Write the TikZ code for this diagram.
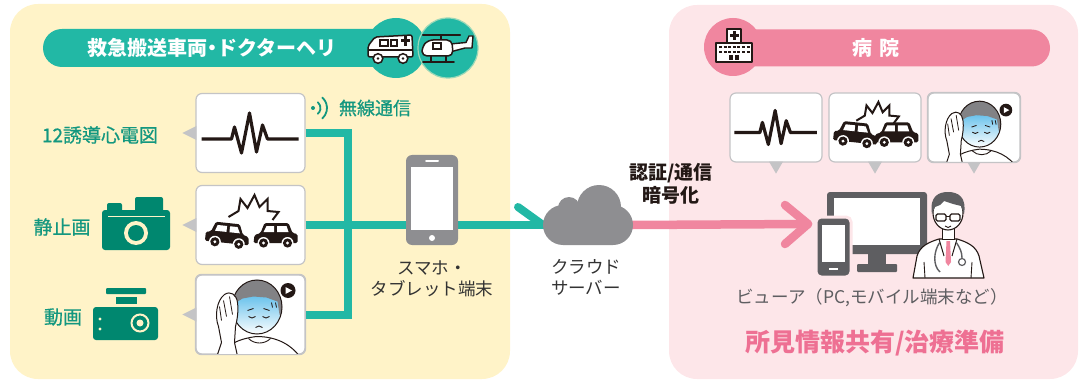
\documentclass[tikz,border=0pt]{standalone}
\usepackage{fontspec}
\setmainfont{Noto Sans CJK JP}
\newfontfamily\jpmed{Noto Sans CJK JP}[RawFeature={embolden=0.6}]
\usetikzlibrary{calc}

\definecolor{panelY}{HTML}{FFF3C8}
\definecolor{panelP}{HTML}{FDE6E9}
\definecolor{tealM}{HTML}{22B8A5}
\definecolor{tealD}{HTML}{00876F}
\definecolor{tealT}{HTML}{13977F}
\definecolor{pinkM}{HTML}{F0869F}
\definecolor{pinkT}{HTML}{EE7093}
\definecolor{grayM}{HTML}{8E8E91}
\definecolor{grayD}{HTML}{5E5E61}
\definecolor{boxline}{HTML}{C4C4C6}
\definecolor{ink}{HTML}{231815}
\definecolor{txt}{HTML}{333333}
\definecolor{faceblue}{HTML}{6CC3EC}
\definecolor{hairgray}{HTML}{828285}

\tikzset{
  card/.style={draw=boxline, line width=1.2pt, fill=white, rounded corners=6pt,
    inner sep=0pt, minimum width=109pt, minimum height=79pt},
  rcard/.style={card, minimum width=92pt, minimum height=69pt},
  cardedge/.style={draw=boxline, line width=1.2pt, rounded corners=6pt},
  pointer/.style={fill=boxline},
  tealwire/.style={draw=tealM, line width=8pt},
  pinkwire/.style={draw=pinkM, line width=8.5pt, line cap=round, line join=round},
  lbl/.style={text=tealT, font=\jpmed\fontsize{19}{21}\selectfont, inner sep=0pt},
  headtxt/.style={text=white, font=\bfseries\fontsize{20}{22}\selectfont, inner sep=0pt},
  darktxt/.style={text=txt, font=\fontsize{17.5}{21}\selectfont, align=center, inner sep=0pt},
  boldtxt/.style={text=ink, font=\bfseries\fontsize{19}{23}\selectfont, align=center, inner sep=0pt},
  icon/.style={draw=ink, line width=1.5pt, fill=white, line join=round},
  % ECG trace
  ecgline/.pic={
    \draw[ink, line width=3.2pt, line join=round]
      (-49,6) -- (-19,6) -- (-16,-6) -- (-9,20) -- (-1,-20) -- (6,19) -- (12,-8) -- (17,6) -- (48,6);
  },
  % a small SUV facing right, origin at the bottom centre
  suv/.pic={
    \fill[ink, rounded corners=1.5pt] (-22,-3) -- (-22,-12) -- (-17,-13) -- (-13,-23) -- (11,-23)
      -- (15,-13) -- (21,-11) -- (22,-3) -- cycle;
    \fill[white] (-11,-20) -- (-1.5,-20) -- (-1.5,-14) -- (-13,-14) -- cycle;
    \fill[white] (1.5,-20) -- (9,-20) -- (12,-14) -- (1.5,-14) -- cycle;
    \foreach \wx in {-12,12}{
      \fill[white] (\wx,-3) circle[radius=6];
      \fill[ink] (\wx,-3) circle[radius=4.6];
      \fill[white] (\wx,-3) circle[radius=1.6];
    }
  },
  % collision scene
  crash/.pic={
    \draw[ink, line width=2pt, line join=miter]
      (-22,-8) -- (-12,-14) -- (-10,-26) -- (-3,-17) -- (4,-30) -- (9,-18) -- (17,-26)
      -- (17,-14) -- (28,-13) -- (22,-5);
    \pic[rotate=-6] at (-24,21) {suv};
    \pic[xscale=-1] at (25,21) {suv};
  },
  % patient holding the head, with a play badge
  sickkid/.pic={
    \draw[ink, line width=1pt, fill=white]
      (-30,46) .. controls (-28,30) and (-10,24) .. (6,22) .. controls (26,22) and (42,30) .. (52,46) -- cycle;
    \draw[ink, line width=0.9pt] (-2,24) .. controls (4,30) and (14,30) .. (20,24);
    \begin{scope}
      \clip (6.5,-7.5) ellipse [x radius=25, y radius=27];
      \shade[top color=faceblue, bottom color=white] (-20,-18) rectangle (35,20);
      \fill[hairgray] (-20,-40) -- (35,-40) -- (35,4) -- (29,0) -- (27,-13) -- (16,-17) -- (3,-18)
        -- (-8,-16) -- (-16,-11) -- (-20,-4) -- cycle;
    \end{scope}
    \draw[ink, line width=1pt] (6.5,-7.5) ellipse [x radius=25, y radius=27];
    \draw[ink, line width=0.9pt] (-2,2) .. controls (0,4) and (3,4) .. (5,2);
    \draw[ink, line width=0.9pt] (12,2) .. controls (14,4) and (17,4) .. (19,2);
    \draw[ink, line width=0.8pt] (-3,-4) -- (3,-6) (13,-6) -- (19,-4);
    \draw[ink, line width=0.9pt] (5,13) .. controls (7,11) and (10,11) .. (12,13);
    \draw[ink, line width=0.8pt] (21,-12) -- (22,-7) (25,-12) -- (26,-7);
    \draw[ink, line width=1pt, fill=white, line join=round]
      (-35,46) -- (-29,28) -- (-32,12) .. controls (-36,2) and (-34,-14) .. (-26,-20)
      .. controls (-20,-24) and (-14,-20) .. (-13,-12) .. controls (-12,-4) and (-13,4) .. (-15,12)
      -- (-16,28) -- (-12,46) -- cycle;
    \draw[ink, line width=0.8pt] (-27,-14) -- (-24,2) (-21,-18) -- (-18,0) (-31,-8) -- (-29,6);
    \fill[ink] (37.5,-24) circle[radius=7.5];
    \fill[white] (35,-27.5) -- (41.5,-24) -- (35,-20.5) -- cycle;
  },
}

\begin{document}
\begin{tikzpicture}[x=1pt,y=-1pt]
\useasboundingbox (0,0) rectangle (1083,382);

% background panels
\fill[panelY, rounded corners=28pt] (10,4) rectangle (510,379);
\fill[panelP, rounded corners=28pt] (669,5) rectangle (1078,379);

% ---------- ambulance / helicopter header ----------
\fill[tealM, rounded corners=19pt] (43,29) rectangle (400,67);
\node[headtxt] (hdrA) at (212,48) {救急搬送車両\kern-5pt・\kern-5pt ドクターヘリ};
\fill[tealM] (396,48) circle[radius=30];
\fill[tealM, draw=panelY!55!tealM, line width=1.2pt] (448,48) circle[radius=30];

% ambulance
\draw[icon, rounded corners=2pt] (368,57) -- (368,46) -- (375,37) -- (412,35) -- (413,57) -- cycle;
\draw[ink, line width=1.2pt] (368,50) -- (413,50);
\draw[ink, line width=1.2pt] (380,40) rectangle (388,46);
\draw[ink, line width=1.2pt] (391,40) rectangle (397,46);
\fill[ink] (401,39.5) rectangle (410,42.5);
\fill[ink] (404,36) rectangle (407,46);
\foreach \wx in {378,403}{
  \draw[ink, line width=1.5pt, fill=white] (\wx,58.5) circle[radius=4.8];
  \fill[ink] (\wx,58.5) circle[radius=1.4];
}

% helicopter
\draw[ink, line width=2.2pt, line cap=round] (423,35) -- (460,35);
\draw[ink, line width=1.6pt] (441,35) -- (441,40);
\draw[icon, line width=1.4pt] (450,44) -- (466,42.5) -- (469,36) -- (473,36) -- (472,48) -- (465,48) -- (450,52) -- cycle;
\draw[icon, rounded corners=5pt] (422,56) -- (422,47) -- (428,40) -- (452,40) -- (453,56) -- cycle;
\draw[ink, line width=1.2pt] (433,43) rectangle (441,49);
\draw[ink, line width=1.6pt, line cap=round] (431,56) -- (431,61) (446,56) -- (446,61) (423,62) -- (454,62);

% ---------- hospital header ----------
\fill[pinkM, rounded corners=18.5pt] (733,29.5) rectangle (1050,66.5);
\node[headtxt] (hdrB) at (876,48) {病\hspace{7pt}院};
\fill[pinkM] (733,47) circle[radius=29];
\draw[icon] (716,43) rectangle (752,62);
\draw[icon] (727,29) rectangle (741,43);
\fill[ink] (732.5,31) rectangle (735.5,40);
\fill[ink] (729.5,34) rectangle (738.5,37);
\draw[ink, line width=2pt, dash pattern=on 3pt off 1.6pt] (719,47.5) -- (750,47.5) (719,52.5) -- (750,52.5);
\fill[ink] (729,55.5) rectangle (733,60);
\fill[ink] (735,55.5) rectangle (739,60);

% ---------- source cards ----------
\node[card] (box1) at (250.5,133) {};
\node[card] (box2) at (250.5,225) {};
\node[card] (box3) at (250.5,314.5) {};
\foreach \b in {box1,box2,box3}{
  \fill[pointer] ($(\b.west)+(1,-7)$) -- ($(\b.west)+(-13,0)$) -- ($(\b.west)+(1,7)$) -- cycle;
}
\pic at (box1) {ecgline};
\begin{scope}
  \clip[rounded corners=6pt] (box2.south west) rectangle (box2.north east);
  \pic at (box2) {crash};
\end{scope}
\begin{scope}
  \clip[rounded corners=6pt] (box3.south west) rectangle (box3.north east);
  \pic at (box3) {sickkid};
\end{scope}
\draw[cardedge] (box3.south west) rectangle (box3.north east);

% labels and device icons
\node[lbl] (lecg) at (100,135) {12誘導心電図};
\node[lbl] (lstill) at (62,227) {静止画};
\node[lbl] (lmovie) at (63,317) {動画};

% camera
\fill[tealD, rounded corners=2pt] (107,203) rectangle (122,212);
\fill[tealD, rounded corners=2pt] (135,197) rectangle (163,212);
\fill[tealD, rounded corners=3pt] (102,210) rectangle (170,250);
\draw[panelY, line width=1.8pt] (108,216.5) -- (165,216.5);
\fill[panelY] (136,233) circle[radius=12];
\fill[tealD] (136,233) circle[radius=8];

% dash camera
\fill[tealD, rounded corners=1pt] (106,288) rectangle (146,294);
\fill[tealD] (116,296.5) rectangle (137,304);
\fill[tealD, rounded corners=3pt] (93,307) rectangle (158,340);
\fill[panelY] (100,319) circle[radius=1.6];
\fill[panelY] (100,329) circle[radius=1.6];
\draw[panelY, line width=2pt] (140,323) circle[radius=8.5];
\fill[panelY] (140,323) circle[radius=3.5];

% wireless mark
\fill[tealT] (313,108) circle[radius=2];
\draw[tealT, line width=1.8pt, line cap=round] (313,108) ++(-50:7.5) arc[start angle=-50, end angle=50, radius=7.5];
\draw[tealT, line width=1.8pt, line cap=round] (313,108) ++(-48:14) arc[start angle=-48, end angle=48, radius=14];
\node[lbl, font=\jpmed\fontsize{18}{20}\selectfont] (lwire) at (375,108) {無線通信};

% ---------- connections ----------
\coordinate (bus) at (348,225);
\coordinate (cloudin) at (543,225);
\coordinate (cloudout) at (633,225);
\coordinate (viewtip) at (808,224);
\draw[tealwire] (box1.east) -| (bus) |- (box3.east);
\draw[tealwire] (box2.east) -- (cloudin);
\draw[tealwire, line cap=round] (cloudin) -- ($(cloudin)+(-25,-18)$);
\draw[pinkwire] (cloudout) -- (viewtip);
\draw[pinkwire] ($(viewtip)+(-23,-19)$) -- (viewtip) -- ($(viewtip)+(-23,20)$);

% smartphone
\node[fill=grayM, rounded corners=6pt, minimum width=52pt, minimum height=90pt, inner sep=0pt] (phone) at (432,200) {};
\fill[white] (411,167) rectangle (453,230);
\draw[white, line width=2pt, line cap=round] (426,161) -- (438,161);
\fill[white] (432,238) circle[radius=3];
\node[darktxt] (lphone) at (432,279) {スマホ・\\タブレット端末};

% cloud server
\node[minimum width=90pt, minimum height=60pt, inner sep=0pt] (cloud) at (588,215) {};
\fill[grayM, rounded corners=20pt] (543,205) rectangle (633,245);
\fill[grayM] (599,207) circle[radius=22];
\fill[grayM] (569,208) circle[radius=11];
\node[darktxt] (lcloud) at (586,277) {クラウド\\サーバー};

\node[boldtxt] (lsec) at (671,184) {認証/通信\\暗号化};

% ---------- hospital cards ----------
\node[rcard] (rbox1) at (776,127.5) {};
\node[rcard] (rbox2) at (875,127.5) {};
\node[rcard] (rbox3) at (974,127.5) {};
\foreach \b in {rbox1,rbox2,rbox3}{
  \fill[pointer] ($(\b.south)+(-7,-1)$) -- ($(\b.south)+(0,11)$) -- ($(\b.south)+(7,-1)$) -- cycle;
}
\pic[scale=0.85] at (rbox1) {ecgline};
\begin{scope}
  \clip[rounded corners=6pt] (rbox2.south west) rectangle (rbox2.north east);
  \pic[scale=0.85] at (rbox2) {crash};
\end{scope}
\begin{scope}
  \clip[rounded corners=6pt] (rbox3.south west) rectangle (rbox3.north east);
  \pic[scale=0.85] at ($(rbox3)+(0,3)$) {sickkid};
\end{scope}
\draw[cardedge] (rbox3.south west) rectangle (rbox3.north east);

% viewer: monitor, phone and doctor
\node[fill=grayD, rounded corners=3pt, minimum width=100pt, minimum height=62pt, inner sep=0pt] (monitor) at (877,223) {};
\fill[white] (834,198) rectangle (920,245);
\fill[grayD] (868,253) rectangle (886,265);
\fill[grayD, rounded corners=1pt] (857,264) rectangle (897,272);
\node[fill=grayD, draw=panelP, line width=3pt, rounded corners=5pt, minimum width=35pt, minimum height=60pt, inner sep=0pt] (hphone) at (833.5,247) {};
\fill[white] (822,225) rectangle (845,262);
\draw[white, line width=2pt] (829,269) -- (838,269);

% doctor
\draw[ink, line width=1.1pt, fill=white, line join=round] (913,278) -- (917,256)
  .. controls (920,246) and (929,242) .. (939,239) -- (957,239)
  .. controls (967,242) and (976,246) .. (979,256) -- (984,278) -- cycle;
\fill[pinkM] (946.5,241) -- (950,241) -- (951,262) -- (948.3,266) -- (945.5,262) -- cycle;
\draw[ink, line width=1pt] (939,239) -- (944,256) (957,239) -- (952,256);
\draw[ink, line width=0.9pt] (924,262) -- (925,278) (972,262) -- (971,278);
\draw[grayD, line width=1.4pt] (940,242) .. controls (933,252) and (933,266) .. (940,272);
\draw[grayD, line width=1.4pt] (956,242) .. controls (960,248) and (962,252) .. (962,258);
\draw[grayD, line width=1.2pt, fill=white] (962,262) circle[radius=3.5];
\draw[ink, line width=1pt, fill=white] (942,226) -- (942,239) -- (954,239) -- (954,226);
\draw[ink, line width=1.1pt, fill=white] (948,213) ellipse [x radius=15, y radius=17];
\fill[grayD] (932,214) .. controls (929,195) and (940,192) .. (948,192)
  .. controls (958,192) and (967,197) .. (964,214) -- (961,206) -- (953,204) -- (944,201)
  -- (940,205) -- (935,207) -- cycle;
\draw[ink, line width=1.1pt, rounded corners=1.5pt] (936,214) rectangle (946,221) (950,214) rectangle (960,221);
\draw[ink, line width=1pt] (946,216.5) -- (950,216.5);
\draw[ink, line width=0.9pt] (945,226) .. controls (947,228) and (949,228) .. (951,226);

\node[inner sep=0pt, text=grayD, font=\fontsize{17.5}{20}\selectfont] (lview) at (872,298) {ビューア（PC,モバイル端末など）};
\node[inner sep=0pt, text=pinkT, font=\bfseries\fontsize{25}{28}\selectfont] (lshare) at (875,343) {所見情報共有/治療準備};

\end{tikzpicture}
\end{document}
